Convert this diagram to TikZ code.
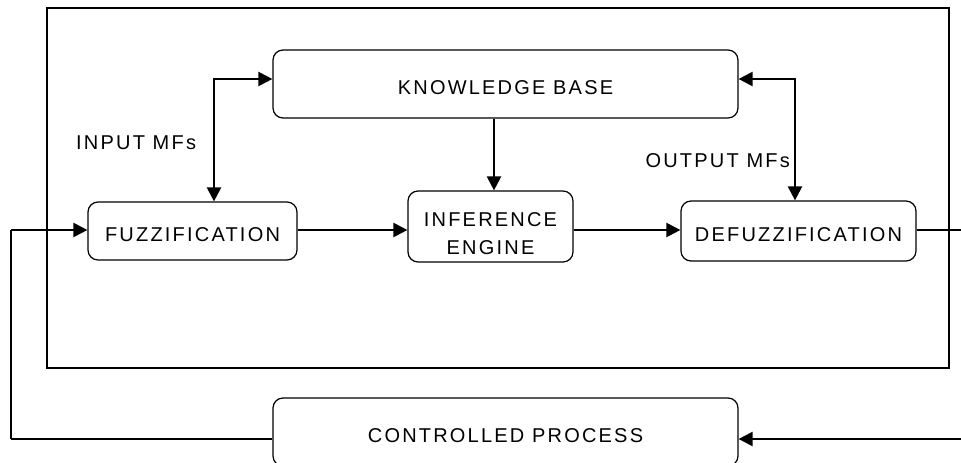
\documentclass[tikz,border=0pt]{standalone}
\usepackage{fontspec}
\setmainfont{Liberation Sans}[LetterSpace=11]
\usetikzlibrary{arrows.meta,calc}
\newcommand{\lowtxt}[1]{\rule{0pt}{#1}}
\tikzset{
  blk/.style={draw, line width=1.2pt, rounded corners=10pt, inner sep=0pt, align=center,
    font=\fontsize{20}{28.5}\selectfont},
  lbl/.style={font=\fontsize{20}{24}\selectfont, inner sep=0pt},
  conn/.style={line width=2.2pt},
  arr/.style={conn, -{Triangle[length=14pt,width=14pt]}},
  darr/.style={conn, {Triangle[length=14pt,width=14pt]}-{Triangle[length=14pt,width=14pt]}},
}
\begin{document}
\begin{tikzpicture}[x=1pt,y=-1pt]
\useasboundingbox (0,0) rectangle (961,463);
\clip (0,0) rectangle (961,463);
% outer frame
\draw[line width=1.2pt] (47,8) rectangle (949,368);
% blocks
\node[blk, minimum width=465pt, minimum height=68pt] (kb) at (505.5,84) {\lowtxt{20.6pt}KNOWLEDGE BASE};
\node[blk, minimum width=209pt, minimum height=58pt] (fuzz) at (192.5,231) {\lowtxt{20.6pt}FUZZIFICATION};
\node[blk, minimum width=165pt, minimum height=71pt] (inf) at (490.5,226.5) {\lowtxt{28.1pt}INFERENCE\\ENGINE};
\node[blk, minimum width=235pt, minimum height=60pt] (defuzz) at (798.5,231) {\lowtxt{20.6pt}DEFUZZIFICATION};
\node[blk, minimum width=465pt, minimum height=68pt] (cp) at (505.5,432) {\lowtxt{20.6pt}CONTROLLED PROCESS};
% labels
\node[lbl, anchor=west] (inmf) at (76,143) {INPUT MFs};
\node[lbl, anchor=east] (outmf) at (790,161) {OUTPUT MFs};
% helper coordinates
\coordinate (sig) at (0,230);
\coordinate (fb) at (0,439);
\coordinate (lx) at (11,0);
\coordinate (rx) at (961,0);
\coordinate (ci) at (214,79);
\coordinate (co) at (795,79);
\coordinate (kx) at (494,0);
% connectors
\draw[arr] (lx |- sig) -- (fuzz.west |- sig);
\draw[arr] (fuzz.east |- sig) -- (inf.west |- sig);
\draw[arr] (inf.east |- sig) -- (defuzz.west |- sig);
\draw[conn] (defuzz.east |- sig) -- (rx |- sig);
\draw[arr] (kb.south -| kx) -- (inf.north -| kx);
\draw[darr] (kb.west |- ci) -- (ci) -- (fuzz.north -| ci);
\draw[darr] (kb.east |- co) -- (co) -- (defuzz.north -| co);
\draw[arr] (rx |- fb) -- (cp.east |- fb);
\draw[conn] (cp.west |- fb) -- (lx |- fb);
\draw[line width=1.2pt] (lx |- fb) -- (lx |- sig);
\end{tikzpicture}
\end{document}
